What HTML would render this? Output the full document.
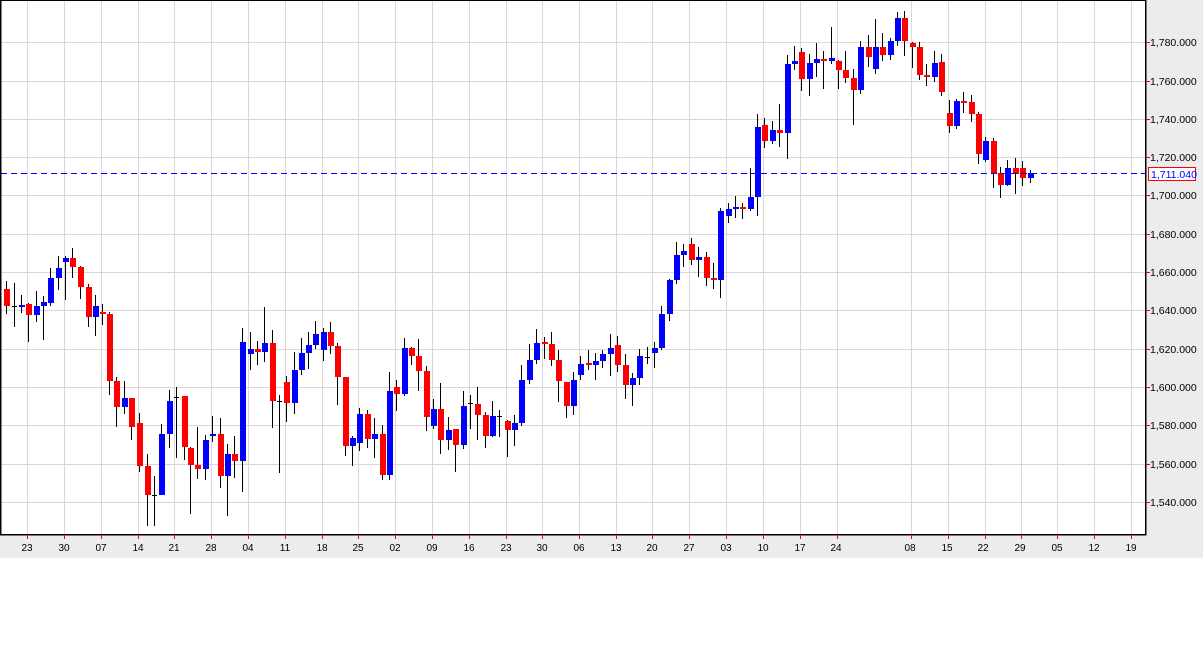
<!DOCTYPE html>
<html><head><meta charset="utf-8"><style>
html,body{margin:0;padding:0;background:#fff;width:1203px;height:648px;overflow:hidden}
svg{display:block;font-family:"Liberation Sans",sans-serif}
</style></head><body>
<svg id="s" width="1203" height="648" xmlns="http://www.w3.org/2000/svg">
<rect x="0" y="0" width="1203" height="558" fill="#ececec"/>
<rect x="1" y="0" width="1144" height="534" fill="#fff"/>
<g id="grid" stroke="#d8d8d8" stroke-width="1"></g>
<g id="c"></g>
<line x1="1" y1="173.5" x2="1145" y2="173.5" stroke="#0000ff" stroke-width="1" stroke-dasharray="6,4"/>
<rect x="0" y="0" width="1.5" height="535" fill="#000"/>
<rect x="1145" y="0" width="1.5" height="535" fill="#000"/>
<rect x="0" y="534" width="1146.5" height="1.5" fill="#000"/>
<rect x="0" y="0" width="1146" height="1" fill="#000"/>
<g id="ticks" stroke="#ff0000" stroke-width="1"></g>
<g font-size="10.5" fill="#000">
<text x="1150" y="46">1,780.000</text>
<text x="1150" y="85">1,760.000</text>
<text x="1150" y="123">1,740.000</text>
<text x="1150" y="161">1,720.000</text>
<text x="1150" y="199">1,700.000</text>
<text x="1150" y="238">1,680.000</text>
<text x="1150" y="276">1,660.000</text>
<text x="1150" y="314">1,640.000</text>
<text x="1150" y="353">1,620.000</text>
<text x="1150" y="391">1,600.000</text>
<text x="1150" y="429">1,580.000</text>
<text x="1150" y="468">1,560.000</text>
<text x="1150" y="506">1,540.000</text>
</g>
<rect x="1148.5" y="167.5" width="47" height="13" fill="#fff" stroke="#ff0000" stroke-width="1"/>
<text x="1151" y="178" font-size="10.5" fill="#0000ff">1,711.040</text>
<g font-size="10" fill="#000" text-anchor="middle">
<text x="27" y="551">23</text><text x="64" y="551">30</text><text x="101" y="551">07</text><text x="138" y="551">14</text><text x="174" y="551">21</text><text x="211" y="551">28</text><text x="248" y="551">04</text><text x="285" y="551">11</text><text x="322" y="551">18</text><text x="358" y="551">25</text><text x="395" y="551">02</text><text x="432" y="551">09</text><text x="469" y="551">16</text><text x="506" y="551">23</text><text x="542" y="551">30</text><text x="579" y="551">06</text><text x="616" y="551">13</text><text x="652" y="551">20</text><text x="689" y="551">27</text><text x="726" y="551">03</text><text x="763" y="551">10</text><text x="800" y="551">17</text><text x="836" y="551">24</text><text x="910" y="551">08</text><text x="947" y="551">15</text><text x="983" y="551">22</text><text x="1020" y="551">29</text><text x="1057" y="551">05</text><text x="1094" y="551">12</text><text x="1131" y="551">19</text>
</g>
</svg>
<script>
var NS="http://www.w3.org/2000/svg";
function el(p,t,a){var e=document.createElementNS(NS,t);for(var k in a)e.setAttribute(k,a[k]);p.appendChild(e);return e;}
var g=document.getElementById('grid'),tk=document.getElementById('ticks');
var ys=[42,81,119,157,195,234,272,310,349,387,425,464,502];
ys.forEach(function(y){el(g,'line',{x1:1,x2:1145,y1:y+.5,y2:y+.5});el(tk,'line',{x1:1146,x2:1150,y1:y+.5,y2:y+.5});});
var xs=[27,64,101,138,174,211,248,285,322,358,395,432,469,506,542,579,616,652,689,726,763,800,837,911,948,985,1021,1057,1094,1131];
xs.forEach(function(x){el(g,'line',{x1:x+.5,x2:x+.5,y1:1,y2:534});el(tk,'line',{x1:x+.5,x2:x+.5,y1:535,y2:539});});
var D=[
[6,281,314,289,306,'r'],[14,283,327,306,307,'k'],[21,295,313,305,307,'b'],[28,303,342,304,315,'r'],[36,291,322,306,315,'b'],[43,296,340,302,306,'b'],[50,268,306,278,303,'b'],[58,256,290,268,278,'b'],[65,256,300,258,262,'b'],[72,248,278,258,267,'r'],[80,266,299,267,287,'r'],[88,284,327,287,317,'r'],[95,295,336,306,317,'b'],[102,304,325,312,314,'r'],[109,312,395,314,381,'r'],[116,377,427,381,407,'r'],[124,381,414,398,407,'b'],[131,398,440,398,427,'r'],[139,413,472,423,466,'r'],[147,454,526,466,495,'r'],[154,476,526,495,496,'k'],[161,424,495,434,495,'b'],[169,390,448,401,434,'b'],[176,387,458,397,398,'k'],[184,396,460,396,447,'r'],[190,447,514,448,465,'r'],[197,427,479,465,469,'r'],[205,435,480,440,469,'b'],[212,416,442,434,436,'b'],[220,418,488,434,476,'r'],[227,444,516,454,476,'b'],[234,436,478,454,461,'r'],[242,328,492,342,461,'b'],[250,332,370,349,354,'b'],[257,341,365,349,352,'r'],[264,307,362,343,352,'b'],[272,330,428,343,401,'r'],[279,395,473,401,402,'k'],[286,376,422,382,403,'r'],[294,352,414,370,403,'b'],
[301,338,375,353,370,'b'],[308,332,369,345,353,'b'],[315,321,349,334,345,'b'],[323,328,361,332,350,'b'],[330,322,354,332,346,'r'],[337,343,405,346,377,'r'],[345,377,456,377,446,'r'],[352,436,466,438,446,'b'],[359,408,451,414,443,'b'],[367,410,448,414,439,'r'],[374,418,458,434,439,'b'],[382,425,480,434,475,'r'],[389,372,480,391,475,'b'],[396,380,411,387,394,'r'],[404,338,396,348,394,'b'],[411,347,365,348,356,'r'],[418,339,391,356,371,'r'],[426,366,431,371,417,'r'],[433,399,429,409,426,'b'],[440,383,454,409,440,'r'],[448,417,450,430,440,'b'],[455,429,472,429,445,'r'],[463,391,449,406,445,'b'],[470,395,429,403,404,'k'],[477,387,440,404,415,'r'],[485,412,448,415,436,'r'],[492,401,437,416,436,'b'],[499,410,437,416,417,'k'],[507,420,457,421,430,'r'],[514,415,446,423,430,'b'],[521,365,426,380,423,'b'],[529,344,384,360,380,'b'],[536,329,364,343,360,'b'],[544,337,359,342,344,'r'],[551,332,366,344,360,'r'],[558,350,402,360,381,'r'],[566,382,418,382,406,'r'],[573,372,415,380,406,'b'],[580,356,380,364,375,'b'],[588,350,370,363,365,'r'],
[595,353,380,361,365,'b'],[602,350,368,354,361,'b'],[610,334,376,348,354,'b'],[617,336,372,345,365,'r'],[625,354,399,365,385,'r'],[632,373,406,378,385,'b'],[639,349,385,356,378,'b'],[647,347,364,357,358,'k'],[654,342,368,348,353,'b'],[661,306,350,314,348,'b'],[669,279,321,280,314,'b'],[676,242,284,255,280,'b'],[683,244,267,251,255,'b'],[691,238,265,244,260,'r'],[698,247,277,257,260,'b'],[706,252,286,257,278,'r'],[713,263,289,278,280,'r'],[720,208,298,211,280,'b'],[728,203,223,209,216,'b'],[735,196,218,207,209,'b'],[742,203,219,207,209,'r'],[750,168,211,197,209,'b'],
[757,114,216,127,197,'b'],[764,118,148,125,141,'r'],[772,121,144,130,141,'b'],[779,104,147,130,133,'r'],[787,55,159,64,133,'b'],[794,46,70,61,64,'b'],[801,48,91,52,79,'r'],[809,54,96,63,79,'b'],[816,43,77,59,63,'b'],[823,51,89,59,61,'r'],[831,27,64,58,61,'b'],[838,60,89,61,70,'r'],[845,51,83,70,78,'r'],[853,69,125,78,90,'r'],[860,41,94,47,90,'b'],[868,35,67,47,57,'r'],[875,19,74,47,69,'b'],[882,33,61,47,55,'r'],[890,38,60,41,55,'b'],[897,12,46,18,41,'b'],[904,11,56,18,41,'r'],[912,42,68,43,47,'r'],[919,42,80,47,75,'r'],[926,64,86,75,77,'r'],[934,51,82,63,77,'b'],[941,54,96,62,92,'r'],[949,100,133,113,126,'r'],[956,99,129,101,126,'b'],[963,92,113,101,102,'r'],[971,95,122,102,114,'r'],[978,112,164,114,154,'r'],[985,137,162,141,160,'b'],[993,138,188,141,173,'r'],[1000,167,198,173,185,'r'],[1007,160,186,168,185,'b'],[1015,158,194,168,174,'r'],[1022,161,186,168,178,'r'],[1030,170,183,173,178,'b']
];
var cg=document.getElementById('c');
var col={r:'#ff0000',b:'#0000ff',k:'#000'};
D.forEach(function(d){
 var x=d[0];
 el(cg,'rect',{x:x,y:d[1],width:1,height:d[2]-d[1],fill:'#000'});
 if(d[5]=='k'){el(cg,'rect',{x:x-2,y:d[3],width:5,height:1,fill:'#000'});}
 else{var h=Math.max(d[4]-d[3],2);el(cg,'rect',{x:x-2,y:d[3],width:6,height:h,fill:col[d[5]]});}
});
</script>
</body></html>
